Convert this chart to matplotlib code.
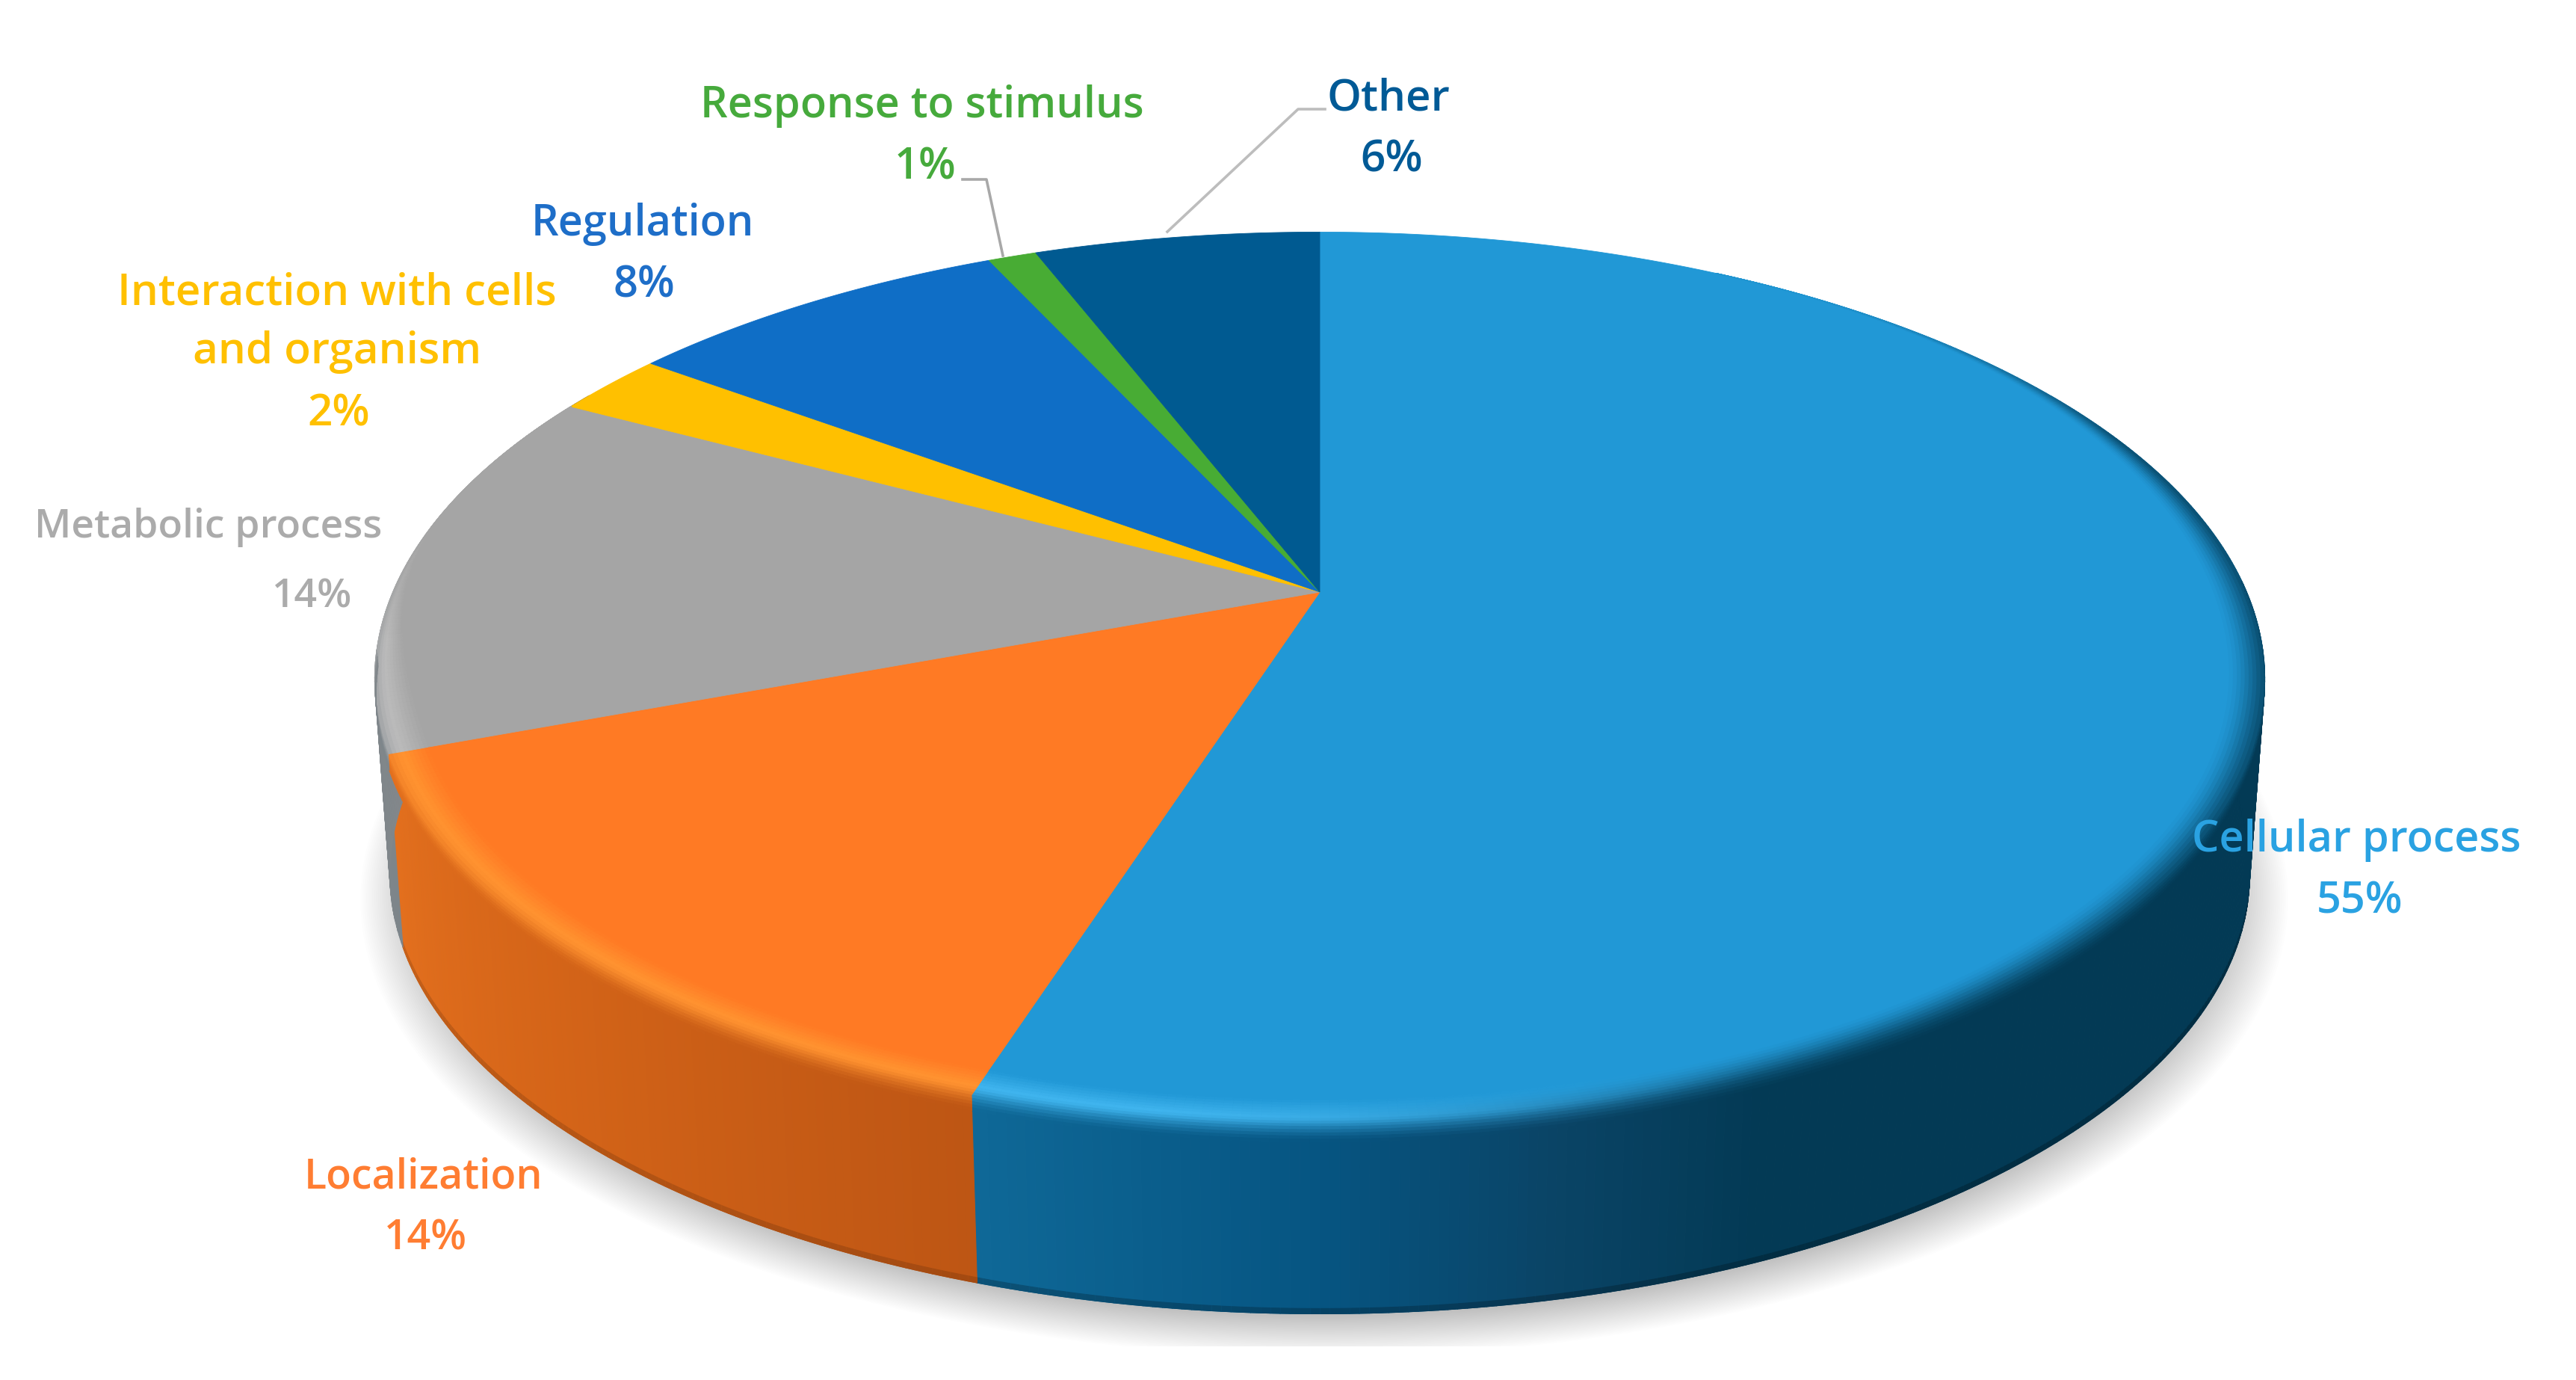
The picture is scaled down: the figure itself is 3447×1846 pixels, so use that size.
import numpy as np
import matplotlib
matplotlib.use("Agg")
import matplotlib.pyplot as plt
from matplotlib.collections import PolyCollection
from matplotlib.patches import Polygon, Rectangle

# ---- data ----
categories = ["Cellular process", "Localization", "Metabolic process",
              "Interaction with cells\nand organism", "Regulation",
              "Response to stimulus", "Other"]
# slice shares; the labels show them rounded
values = [54.95, 14.35, 13.5, 2.3, 8.0, 1.0, 5.9]
top_colors = ["#2198D6", "#FF7A24", "#A5A5A5", "#FFC000", "#0F6EC6", "#48AC34", "#005A91"]
text_colors = ["#2AA2E2", "#FF7D32", "#ABABAB", "#FFC000", "#1E6EC8", "#46AA3C", "#005A96"]

W, H = 3448, 1846
CX, CY = 1766, 792          # apex of the pie in the picture
K = 0.195
A = 261.7 * 2.199
B = 564.0 * 2.199
DEPTH = 262

fig = plt.figure(figsize=(W / 100, H / 100), dpi=100, facecolor="white")
ax = fig.add_axes([0, 0, 1, 1])
ax.set_xlim(0, W); ax.set_ylim(H, 0); ax.axis("off")


def project(theta_deg, r=1.0, z=0.0):
    """theta clockwise from 12 o'clock; r radial fraction; z 0..1 down the wall."""
    t = np.radians(theta_deg)
    X, Y = r * np.sin(t), r * np.cos(t)
    d = 1 + K * Y
    s = 1 - 0.016 * z
    return CX + s * B * X / d, CY - s * A * Y / d + DEPTH * z


def rgb(h):
    return np.array(matplotlib.colors.to_rgb(h))


def mix(a, b, f):
    return a + (b - a) * np.clip(f, 0, 1)


def smooth(f):
    f = np.clip(f, 0, 1)
    return f * f * (3 - 2 * f)


# cumulative angles from the values
total = sum(values)
edges = np.cumsum([0] + values) / total * 360.0

# ---- soft shadow ----
ring = np.linspace(0, 360, 361)
clip_rect = Rectangle((0, 0), W, 1801, transform=ax.transData)
n_sh = 36
for i in range(n_sh):
    sc = 1.035 - 0.07 * i / (n_sh - 1)
    px, py = project(ring, sc, 1.0)
    p = Polygon(np.c_[px + 6, py + 26], closed=True, fc="black", ec="none",
                alpha=0.0075, zorder=1)
    ax.add_patch(p)
    p.set_clip_path(clip_rect)

# ---- side wall colour per angle ----
side_stops = {
    0: ([88, 157, 168, 180, 198],
        [(3, 58, 85), (3, 58, 85), (10, 68, 102), (6, 85, 130), (15, 105, 152)]),
    1: ([198, 225, 250], [(190, 86, 20), (212, 100, 24), (228, 112, 30)]),
    2: ([250, 300], [(125, 133, 138), (140, 140, 140)]),
}


def side_color(i, th):
    xs, cs = side_stops.get(i, ([0, 360], [(90, 90, 90), (90, 90, 90)]))
    cs = np.array(cs, float)
    return np.array([np.interp(th, xs, cs[:, c]) for c in range(3)]) / 255


def bright(i):
    return {0: rgb("#3FB4EE"), 1: rgb("#FF9230"), 2: rgb("#BABABA")}.get(i, rgb(top_colors[i]))


polys, cols = [], []
step = 0.5
for i in range(len(values)):
    a0, a1 = edges[i], edges[i + 1]
    if a1 < 60 or a0 > 300:
        continue
    for t in np.arange(max(a0, 60), min(a1, 300), step):
        t2 = min(t + step, a1)
        c = side_color(i, t)
        x0, y0 = project(np.array([t, t2]), 1.0, 0.0)
        x1, y1 = project(np.array([t2, t]), 1.0, 1.0)
        polys.append(np.c_[np.r_[x0, x1], np.r_[y0, y1]])
        cols.append(c)
        if i < 2:
            # thin darker lip at the foot of the wall
            xa, ya = project(np.array([t, t2]), 1.0, 0.972)
            polys.append(np.c_[np.r_[xa, x1], np.r_[ya, y1]])
            cols.append(c * (0.78 if i == 0 else 0.86))
ax.add_collection(PolyCollection(polys, facecolors=cols, edgecolors=cols, linewidths=0.8, zorder=2))

# ---- top surface ----
for i in range(len(values)):
    th = np.linspace(edges[i], edges[i + 1], 200)
    px, py = project(th)
    ax.add_patch(Polygon(np.c_[np.r_[CX, px], np.r_[CY, py]], closed=True,
                         fc=top_colors[i], ec=top_colors[i], lw=0.6, zorder=3))

# ---- bevel: soft transition from top face over the rim onto the wall ----
polys, cols = [], []
N_R, N_Z = 10, 5
for i in range(3):
    a0, a1 = edges[i], edges[i + 1]
    base = rgb(top_colors[i])
    for t in np.arange(max(a0, 30), min(a1, 300), step):
        t2 = min(t + step, a1)
        w = smooth((t - 30) / 65) * (1 - smooth((t - 250) / 32))
        w = max(w, 0.03)
        strength = min(1.0, w * 1.6)
        light = smooth((t - 150) / 40) if i == 0 else 1.0
        wall = side_color(i, t)
        r_in = 1 - 0.040 * w
        rings = [(r, 0.0, 0.7 * j / N_R)
                 for j, r in enumerate(np.linspace(r_in, 1.0, N_R + 1))]
        if 88 < t < 262:
            rings += [(1.0, z, 0.7 + 0.3 * j / N_Z)
                      for j, z in enumerate(np.linspace(0, 0.085, N_Z + 1))][1:]
        for (r0, z0, f0), (r1, z1, f1) in zip(rings[:-1], rings[1:]):
            f = 0.5 * (f0 + f1)
            lit = mix(base, bright(i), f / 0.45) if f < 0.45 else mix(bright(i), wall, smooth((f - 0.45) / 0.55))
            dark = mix(base, wall, smooth(f))
            c = mix(base, mix(dark, lit, light), strength)
            xa, ya = project(np.array([t, t2]), r0, z0)
            xb, yb = project(np.array([t2, t]), r1, z1)
            polys.append(np.c_[np.r_[xa, xb], np.r_[ya, yb]])
            cols.append(c)
ax.add_collection(PolyCollection(polys, facecolors=cols, edgecolors=cols, linewidths=0.8, zorder=4))

# ---- leader lines ----
ax.plot([1773, 1737, 1562], [146, 146, 310], color="#BDBDBD", lw=2.6, zorder=5)
ax.plot([1288, 1320, 1342], [240, 240, 342], color="#A8A8A8", lw=2.6, zorder=5)

# ---- labels ----
FONT = dict(family="Open Sans", fontweight="semibold", ha="center", va="center", zorder=6)
label_pos = [
    ((3153, 1124), (3158, 1206)),
    ((567, 1575), (569, 1657)),
    ((279, 706), (418, 799)),
    ((451, 432), (453, 555)),
    ((860, 300), (862, 383)),
    ((1234, 142), (1238, 224)),
    ((1858, 132), (1862, 215)),
]
label_size = [41.5, 40, 38.5, 42, 41.5, 41.5, 42]
for i, (name, v) in enumerate(zip(categories, values)):
    (x0, y0), (x1, y1) = label_pos[i]
    ax.text(x0, y0, name, color=text_colors[i], linespacing=1.47, fontsize=label_size[i], **FONT)
    ax.text(x1, y1, f"{round(v)}%", color=text_colors[i], fontsize=label_size[i], **FONT)

fig.savefig("out.png", dpi=100, facecolor="white")
